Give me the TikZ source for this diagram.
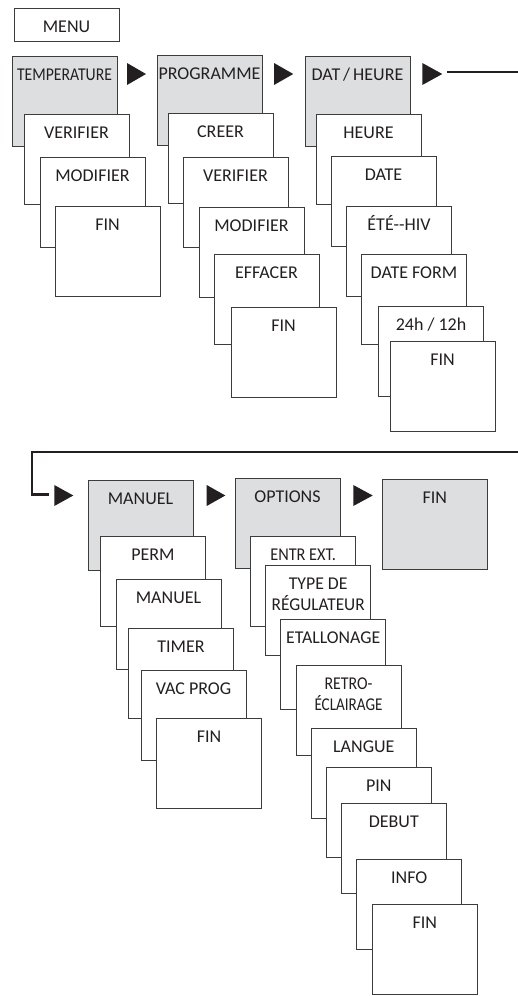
\documentclass[tikz,border=0pt]{standalone}
\usepackage{fontspec}
\setmainfont{Carlito}
\usepackage{graphicx}
\definecolor{bord}{HTML}{3C3C3C}
\definecolor{shade}{HTML}{DDDEE0}
\definecolor{ink}{HTML}{231F20}
\newcommand\mkbox[5]{\node[#1] (#2) at (#3,#4) {};
  \node[txt] (#2t) at ([yshift=-24pt]#2.north) {#5};}
\newcommand\sq[2]{\resizebox{#1pt}{\height}{#2}}
\begin{document}
\begin{tikzpicture}[x=1pt,y=-1pt,
  bx/.style={draw=bord, line width=0.9pt, fill=white, minimum width=105pt,
    minimum height=90pt, inner sep=0pt, outer sep=0pt, anchor=north west},
  hd/.style={bx, fill=shade},
  mn/.style={bx, minimum height=33pt},
  txt/.style={anchor=base, inner sep=0pt, font=\fontsize{18}{21.5}\selectfont, text=ink},
  tri/.style={fill=ink},
  conn/.style={draw=ink, line width=2.2pt}]
\useasboundingbox (0,0) rectangle (518,996);

\mkbox{mn}{menu}{14}{8}{MENU}

% column 1
\mkbox{hd}{temp}{12}{56}{\sq{95}{TEMPERATURE}}
\mkbox{bx}{tver}{24}{114}{VERIFIER}
\mkbox{bx}{tmod}{40}{157}{MODIFIER}
\mkbox{bx}{tfin}{55}{206}{FIN}

% column 2
\mkbox{hd}{prog}{157}{55}{PROGRAMME}
\mkbox{bx}{pcre}{168}{113}{CREER}
\mkbox{bx}{pver}{183}{157}{VERIFIER}
\mkbox{bx}{pmod}{199}{207}{MODIFIER}
\mkbox{bx}{peff}{214}{254.5}{EFFACER}
\mkbox{bx}{pfin}{231}{307}{FIN}

% column 3
\mkbox{hd}{dat}{305}{56}{DAT\,/\,HEURE}
\mkbox{bx}{dheu}{316}{114}{HEURE}
\mkbox{bx}{ddat}{331}{156}{DATE}
\mkbox{bx}{dete}{346.5}{206}{ÉTÉ{-}{-}HIV}
\mkbox{bx}{dfor}{361.5}{254.3}{DATE FORM}
\mkbox{bx}{dtwf}{378.5}{306.3}{24h / 12h}
\mkbox{bx}{dfin}{390}{341.7}{FIN}

% lower row
\mkbox{hd}{man}{88}{480}{MANUEL}
\mkbox{bx}{mper}{100.5}{536}{PERM}
\mkbox{bx}{mman}{116}{579}{MANUEL}
\mkbox{bx}{mtim}{128.5}{628.5}{TIMER}
\mkbox{bx}{mvac}{141}{670}{VAC PROG}
\mkbox{bx}{mfin}{156.5}{718.3}{FIN}

\mkbox{hd}{opt}{235}{478.3}{OPTIONS}
\mkbox{bx}{oent}{250.7}{536.7}{\sq{65.7}{ENTR EXT.}}
\mkbox{bx}{otyp}{265.7}{565.3}{\begin{tabular}[t]{@{}c@{}}\sq{58.7}{TYPE DE}\\\sq{93}{RÉGULATEUR}\end{tabular}}
\mkbox{bx}{oeta}{280.7}{619}{\sq{94}{ETALLONAGE}}
\mkbox{bx}{oret}{296}{665}{\begin{tabular}[t]{@{}c@{}}\sq{48}{RETRO-}\\\sq{68}{ÉCLAIRAGE}\end{tabular}}
\mkbox{bx}{olan}{311.3}{728.7}{LANGUE}
\mkbox{bx}{opin}{326.3}{767}{PIN}
\mkbox{bx}{odeb}{341.3}{803.7}{DEBUT}
\mkbox{bx}{oinf}{356.7}{859}{INFO}
\mkbox{bx}{ofin}{372.3}{904.3}{FIN}

\mkbox{hd}{fin}{382.3}{479.3}{FIN}

% arrow heads
\fill[tri] (127,63) -- (127,85) -- (146,74) -- cycle;
\fill[tri] (274,63) -- (274,85) -- (293.3,74) -- cycle;
\fill[tri] (422.3,63) -- (422.3,85) -- (442.3,74) -- cycle;
\fill[tri] (54.3,485) -- (54.3,506) -- (73.3,495.5) -- cycle;
\fill[tri] (206.7,485) -- (206.7,506) -- (225.3,495.5) -- cycle;
\fill[tri] (353.3,485) -- (353.3,506) -- (372.7,495.5) -- cycle;

% connector
\coordinate (ls) at (447.3,72);
\coordinate (ra) at (518,72);
\coordinate (rb) at (518,452.3);
\coordinate (lc) at (32,452.3);
\coordinate (ld) at (32,494.5);
\coordinate (le) at (49.3,494.5);
\draw[conn] (ls) -- (ra);
\draw[conn] (rb) -- (lc) -- (ld) -- (le);
\end{tikzpicture}
\end{document}
